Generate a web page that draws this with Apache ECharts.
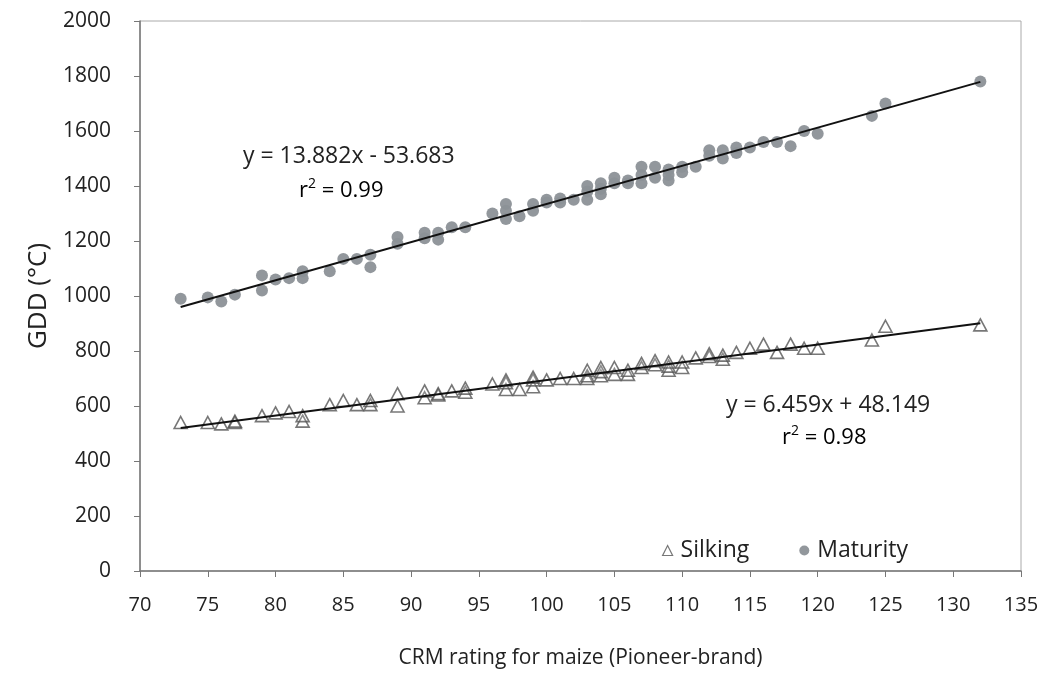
<!DOCTYPE html>
<html><head><meta charset="utf-8">
<script src="https://cdn.jsdelivr.net/npm/echarts@6/dist/echarts.min.js"></script>
<style>html,body{margin:0;padding:0;background:#fff}#c{width:1047px;height:674px}</style>
</head><body><div id="c"></div>
<script>
const xTicks = [70,75,80,85,90,95,100,105,110,115,120,125,130,135];
const yTicks = [0,200,400,600,800,1000,1200,1400,1600,1800,2000];

const maturityX = [73,75,76,77,79,79,80,81,82,82,84,85,86,87,87,89,89,91,91,92,92,93,94,96,97,97,97,98,99,99,100,100,101,101,102,103,103,103,104,104,104,105,105,106,106,107,107,107,108,108,109,109,109,110,110,111,112,112,113,113,114,114,115,116,117,118,119,120,124,125,132];
const maturityY = [990,995,980,1005,1075,1020,1060,1065,1065,1090,1090,1135,1135,1105,1150,1190,1215,1210,1230,1205,1230,1250,1250,1300,1280,1310,1335,1290,1310,1335,1340,1350,1340,1355,1350,1350,1380,1400,1370,1390,1410,1410,1430,1410,1420,1410,1440,1470,1430,1470,1420,1440,1460,1450,1470,1470,1510,1530,1500,1530,1520,1540,1540,1560,1560,1545,1600,1590,1655,1700,1780];

const silkingX = [73,75,76,77,77,79,80,81,82,82,84,85,86,87,87,89,89,91,91,92,92,93,94,94,96,97,97,97,98,99,99,99,100,101,102,103,103,103,104,104,104,105,105,106,106,107,107,108,108,109,109,109,110,110,111,112,112,113,113,114,115,116,117,118,119,120,124,125,132];
const silkingY = [540,540,535,540,545,565,575,580,545,565,605,620,605,605,620,600,645,630,655,640,645,655,650,665,680,660,685,695,660,670,695,705,695,700,700,700,710,730,710,725,740,715,740,715,730,740,755,750,765,730,745,760,740,760,775,780,790,770,785,795,810,825,795,825,810,810,840,890,895];

const fitRange = [73,132];
const maturityFit = {slope:13.882, intercept:-53.683, r2:'0.99'};
const silkingFit = {slope:6.459, intercept:48.149, r2:'0.98'};

const FONT = '"Open Sans", "DejaVu Sans", sans-serif';
const pair = (xs, ys) => xs.map((x,i)=>[x, ys[i]]);
const fitLine = f => fitRange.map(x => [x, f.slope*x + f.intercept]);

const chart = echarts.init(document.getElementById('c'));
const rich = {
  a:{fontFamily:FONT,fontSize:22,color:'#222'},
  s:{fontFamily:FONT,fontSize:14,color:'#222',padding:[0,0,13,0]}
};
chart.setOption({
  animation:false,
  backgroundColor:'#fff',
  grid:{left:140,right:26,top:21,bottom:99,show:true,borderColor:'#aaa',borderWidth:1},
  xAxis:{type:'value',min:70,max:135,interval:5,
    name:'CRM rating for maize (Pioneer-brand)',nameLocation:'middle',nameGap:77,
    nameTextStyle:{fontFamily:FONT,fontSize:21,color:'#222'},
    axisLine:{show:true,lineStyle:{color:'#777',width:1.5}},
    axisTick:{show:true,inside:false,length:6,lineStyle:{color:'#777'}},
    axisLabel:{fontFamily:FONT,fontSize:20,color:'#222',margin:24},
    splitLine:{show:false}},
  yAxis:{type:'value',min:0,max:2000,interval:200,
    name:'GDD (°C)',nameLocation:'middle',nameGap:88,
    nameTextStyle:{fontFamily:FONT,fontSize:26,color:'#222'},
    axisLine:{show:true,lineStyle:{color:'#777',width:1.5}},
    axisTick:{show:true,inside:false,length:6,lineStyle:{color:'#777'}},
    axisLabel:{fontFamily:FONT,fontSize:21,color:'#222',margin:29,formatter:v=>String(v)},
    splitLine:{show:false}},
  legend:{left:657,top:534,itemGap:50,itemWidth:10,itemHeight:10,
    textStyle:{fontFamily:FONT,fontSize:23,color:'#222',padding:[0,0,0,3]},
    data:[
      {name:'Silking',icon:'triangle',itemStyle:{color:'#fff',borderColor:'#555',borderWidth:1.2}},
      {name:'Maturity',icon:'circle',itemStyle:{color:'#8c9197'}}
    ]},
  series:[
    {name:'Maturity',type:'scatter',data:pair(maturityX,maturityY),symbol:'circle',symbolSize:12,
      itemStyle:{color:'#8c9197',opacity:0.95},z:2},
    {name:'Silking',type:'scatter',data:pair(silkingX,silkingY),symbol:'triangle',symbolSize:[13,12],
      itemStyle:{color:'rgba(255,255,255,0.2)',borderColor:'#555',borderWidth:1.6},z:2},
    {name:'mfit',type:'line',data:fitLine(maturityFit),symbol:'none',
      lineStyle:{color:'#111',width:2},z:3,silent:true},
    {name:'sfit',type:'line',data:fitLine(silkingFit),symbol:'none',
      lineStyle:{color:'#111',width:2},z:3,silent:true}
  ],
  graphic:[
    {type:'text',left:243,top:145,style:{text:'y = '+maturityFit.slope+'x - '+Math.abs(maturityFit.intercept),font:'23px '+FONT,fill:'#222'}},
    {type:'text',left:299,top:177,style:{text:'{a|r}{s|2}{a| = '+maturityFit.r2+'}',rich:rich}},
    {type:'text',left:726,top:394,style:{text:'y = '+silkingFit.slope+'x + '+silkingFit.intercept,font:'23px '+FONT,fill:'#222'}},
    {type:'text',left:782,top:424,style:{text:'{a|r}{s|2}{a| = '+silkingFit.r2+'}',rich:rich}}
  ]
});
</script></body></html>
